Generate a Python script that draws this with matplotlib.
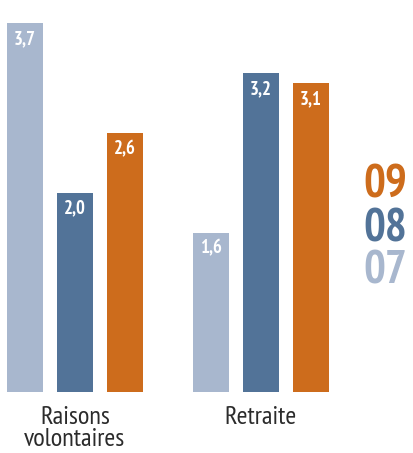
import matplotlib
matplotlib.use("Agg")
import matplotlib.pyplot as plt
from matplotlib import font_manager

# Data
categories = ["Raisons\nvolontaires", "Retraite"]
years = ["07", "08", "09"]
values_07 = [3.7, 1.6]
values_08 = [2.0, 3.2]
values_09 = [2.6, 3.1]

colors = {"07": "#a8b7ce", "08": "#527398", "09": "#cd6c1c"}

installed = {f.name for f in font_manager.fontManager.ttflist}
family = [f for f in ["PT Sans Narrow", "Fira Sans Condensed", "Roboto Condensed",
                      "Liberation Sans", "DejaVu Sans"] if f in installed]
plt.rcParams["font.family"] = family

W, H = 414, 453
fig = plt.figure(figsize=(W / 100, H / 100), dpi=100)
ax = fig.add_axes([0, 0, 1, 1])

px_x = 186.0   # pixels per group step
px_y = 99.6    # pixels per unit value
x0_px = 75.0   # centre of first group
base_px = 392.0

ax.set_xlim(-x0_px / px_x, (W - x0_px) / px_x)
ax.set_ylim(-(H - base_px) / px_y, base_px / px_y)
ax.axis("off")

step = 50 / px_x
width = 36 / px_x
series = [("07", values_07), ("08", values_08), ("09", values_09)]
for i, (yr, vals) in enumerate(series):
    xs = [g + (i - 1) * step for g in range(len(categories))]
    ax.bar(xs, vals, width=width, color=colors[yr], linewidth=0)
    for x, v in zip(xs, vals):
        ax.annotate(f"{v:.1f}".replace(".", ","), (x, v), xytext=(0, -5),
                    textcoords="offset points", ha="center", va="top",
                    color="white", fontsize=13.5, fontweight="bold")

for g, cat in enumerate(categories):
    ax.text(g, -0.14, cat, ha="center", va="top", fontsize=19,
            color="#2b2b2b", linespacing=0.92)

legend_y = [(392 - 185) / px_y, (392 - 229) / px_y, (392 - 272) / px_y]
for yr, yy in zip(["09", "08", "07"], legend_y):
    ax.text((385 - x0_px) / px_x, yy, yr, ha="center", va="center",
            fontsize=33, fontweight="bold", color=colors[yr])

fig.savefig("out.png", dpi=100)
